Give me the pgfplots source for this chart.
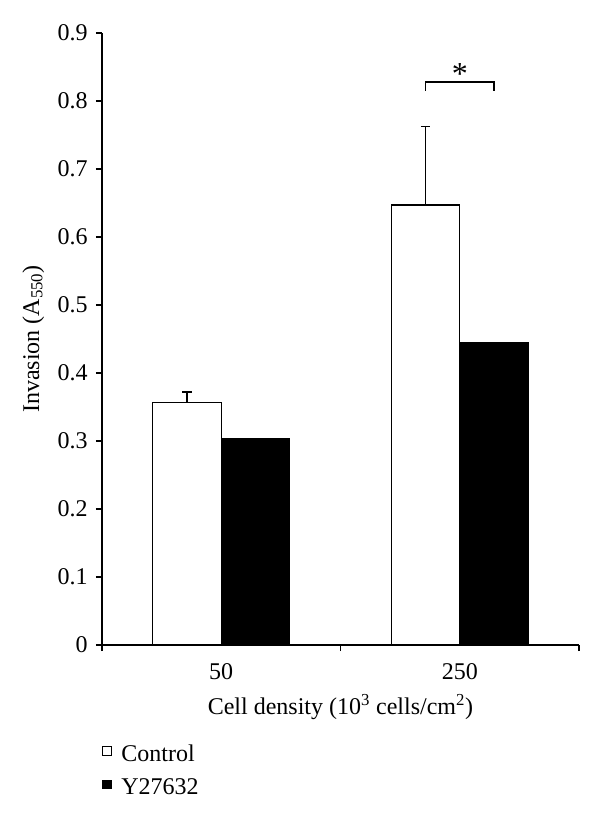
\documentclass[border=0pt]{standalone}
\usepackage{pgfplots}
\pgfplotsset{compat=1.18}
\usepackage{fontspec}
\setmainfont{Liberation Serif}
\begin{document}
\fontsize{18}{21}\selectfont
\begin{tikzpicture}
\useasboundingbox (-76.5pt,-129.75pt) rectangle (373.5pt,483.75pt);
\begin{axis}[
  scale only axis, width=357.75pt, height=459pt,
  xmin=0.5, xmax=2.5, ymin=0, ymax=0.9,
  axis x line*=bottom, axis y line*=left,
  axis line style={line width=0.9pt},
  ybar, bar width=0.287,
  ytick={0,0.1,0.2,0.3,0.4,0.5,0.6,0.7,0.8,0.9},
  yticklabel style={/pgf/number format/fixed, /pgf/number format/precision=1},
  /pgf/number format/assume math mode=true,
  xtick={0.5,1.5,2.5}, xticklabels={},
  extra x ticks={1,2}, extra x tick labels={50,250},
  extra x tick style={major tick length=0pt, xticklabel style={yshift=-8pt}},
  tick align=outside, major tick length=4.5pt,
  tick style={black, line width=0.8pt},
  every tick label/.append style={font=\fontsize{18}{21}\selectfont},
  label style={font=\fontsize{18}{21}\selectfont},
  ylabel={Invasion (A\textsubscript{550})},
  ylabel style={yshift=-2pt},
  xlabel={Cell density (10\textsuperscript{3} cells/cm\textsuperscript{2})},
  xlabel style={at={(rel axis cs:0.5,0)}, anchor=base, yshift=-52pt},
  legend style={at={(rel axis cs:0,-0.158)}, anchor=north west, draw=none, fill=none,
    font=\fontsize{18}{21}\selectfont, row sep=6pt, cells={anchor=west}, inner sep=0pt},
  legend image code/.code={\draw[#1, line width=0.6pt, bar shift=0pt] (0pt,-0.5pt) rectangle (6.5pt,6pt);\path[draw=none, fill=none] (0pt,0pt) -- (12pt,0pt);},
  clip=false,
]
\addplot[fill=white, draw=black, line width=0.9pt, bar shift=-0.1435,
  error bars/.cd, y dir=plus, y explicit,
  error bar style={line width=0.9pt},
  error mark options={rotate=90, mark size=3.5pt, line width=0.9pt}]
  coordinates {(1,0.357) +- (0,0.015) (2,0.647) +- (0,0.116)};
\addplot[fill=black, draw=black, line width=0.9pt, bar shift=0.1435]
  coordinates {(1,0.304) (2,0.445)};
\legend{Control, Y27632}
\draw[line width=0.9pt] (axis cs:1.8565,0.815) -- (axis cs:1.8565,0.828) -- (axis cs:2.1435,0.828) -- (axis cs:2.1435,0.815);
\node[anchor=base, font=\fontsize{24}{24}\selectfont] at (axis cs:2,0.824) {*};
\end{axis}
\end{tikzpicture}
\end{document}
